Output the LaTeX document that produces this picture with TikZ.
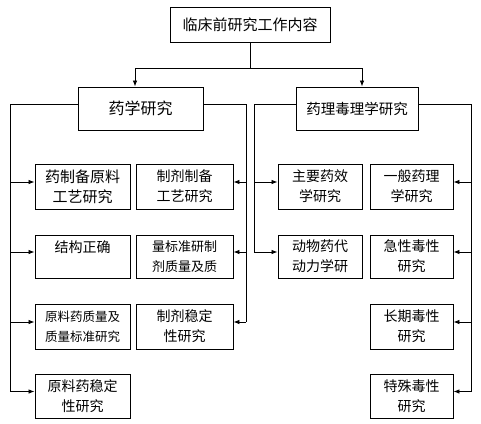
\documentclass[tikz,border=0pt]{standalone}
\usepackage{fontspec}
\setmainfont{Noto Sans CJK SC}
\usetikzlibrary{arrows.meta}
\tikzset{
  box/.style={draw, line width=0.9pt, rectangle, inner sep=1pt, align=center, font=\fontsize{14}{20}\selectfont},
  link/.style={line width=0.8pt},
  arr/.style={link, -{Latex[length=6pt,width=4.5pt]}},
}
\begin{document}
\begin{tikzpicture}[x=1pt,y=1pt]
\useasboundingbox (0,0) rectangle (481,-423);
% top
\node[box, minimum width=160, minimum height=35, font=\fontsize{15}{20}\selectfont] (top) at (250,-24.5) {临床前研究工作内容};
\node[box, minimum width=125, minimum height=43, font=\fontsize{16}{20}\selectfont] (lm) at (140.5,-108.5) {药学研究};
\node[box, minimum width=122, minimum height=43, font=\fontsize{14.5}{20}\selectfont] (rm) at (357,-108.5) {药理毒理学研究};
% left boxes
\node[box, minimum width=95, minimum height=45, font=\fontsize{15}{20}\selectfont] (b1) at (82.5,-186.5) {药制备原料\\工艺研究};
\node[box, minimum width=97, minimum height=45] (b2) at (184.5,-186.5) {制剂制备\\工艺研究};
\node[box, minimum width=95, minimum height=43] (b3) at (82.5,-256.5) {结构正确\\\mbox{}};
\node[box, minimum width=97, minimum height=43, font=\fontsize{13}{20}\selectfont] (b4) at (184.5,-256.5) {量标准研制\\剂质量及质};
\node[box, minimum width=95, minimum height=45, font=\fontsize{12.5}{20}\selectfont] (b5) at (82.5,-326.5) {原料药质量及\\质量标准研究};
\node[box, minimum width=97, minimum height=45] (b6) at (184.5,-326.5) {制剂稳定\\性研究};
\node[box, minimum width=95, minimum height=44] (b7) at (82.5,-396) {原料药稳定\\性研究};
% right boxes
\node[box, minimum width=84, minimum height=45] (c1) at (320,-186.5) {主要药效\\学研究};
\node[box, minimum width=83, minimum height=45] (c2) at (411.5,-186.5) {一般药理\\学研究};
\node[box, minimum width=84, minimum height=43] (c3) at (320,-256.5) {动物药代\\动力学研};
\node[box, minimum width=83, minimum height=43] (c4) at (411.5,-256.5) {急性毒性\\研究};
\node[box, minimum width=83, minimum height=45] (c5) at (411.5,-326.5) {长期毒性\\研究};
\node[box, minimum width=83, minimum height=44] (c6) at (411.5,-396) {特殊毒性\\研究};
% bus coordinates
\coordinate (junc) at (250,-68);
\coordinate (lbus) at (10,0);
\coordinate (mbus) at (246,0);
\coordinate (nbus) at (254,0);
\coordinate (rbus) at (471,0);
% top connectors
\draw[link] (top.south) -- (junc);
\coordinate (lmin) at ([xshift=-5.5pt]lm.north);
\coordinate (rmin) at ([xshift=5pt]rm.north);
\draw[arr] (junc) -| (lmin);
\draw[arr] (junc) -| (rmin);
% entry points
\foreach \n in {b1,b2,b3,b4,b5,b6,b7,c1,c2,c3,c4,c5,c6}{
  \coordinate (\n w) at ([yshift=4.5pt]\n.west);
  \coordinate (\n e) at ([yshift=4.5pt]\n.east);
}
\coordinate (lmw) at ([yshift=4.5pt]lm.west);
\coordinate (lme) at ([yshift=4.5pt]lm.east);
\coordinate (rmw) at ([yshift=4.5pt]rm.west);
\coordinate (rme) at ([yshift=4.5pt]rm.east);
% left bus
\draw[link] (lmw) -| (b7w -| lbus) -- (b7w -| lbus);
\foreach \n in {b1,b3,b5,b7}{ \draw[arr] (\n w -| lbus) -- (\n w); }
\draw[link] (lme) -| (b6e -| mbus);
\foreach \n in {b2,b4,b6}{ \draw[arr] (\n e -| mbus) -- (\n e); }
% right bus
\draw[link] (rmw) -| (c3w -| nbus);
\foreach \n in {c1,c3}{ \draw[arr] (\n w -| nbus) -- (\n w); }
\draw[link] (rme) -| (c6e -| rbus);
\foreach \n in {c2,c4,c5,c6}{ \draw[arr] (\n e -| rbus) -- (\n e); }
\end{tikzpicture}
\end{document}
